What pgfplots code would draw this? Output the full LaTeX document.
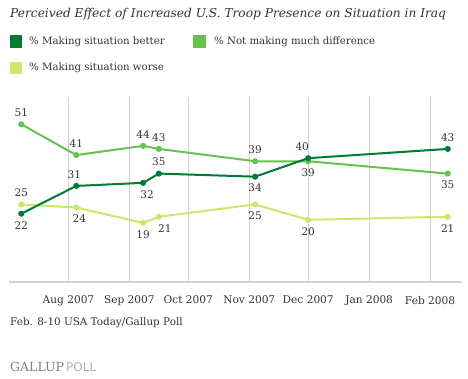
\documentclass[border=0pt]{standalone}
\usepackage{pgfplots}
\usepackage{pgfplotstable}
\pgfplotsset{compat=1.18}
\usepackage{fontspec}
\setmainfont{DejaVu Serif}
\newfontfamily\sansf{DejaVu Sans}
\definecolor{cBetter}{HTML}{007A37}
\definecolor{cSame}{HTML}{66C150}
\definecolor{cWorse}{HTML}{C8E86E}
\definecolor{txt}{HTML}{333333}
\definecolor{gridc}{HTML}{D0D0D0}

% day offsets from Aug 1 2007
\pgfplotstableread{
x y pos dx
-24 22 -1 0
4 31 1 -2
38 32 -1 4
46 35 1 0
95 34 -1 0
122 40 1 -6
193 43 1 0
}\better
\pgfplotstableread{
x y pos dx
-24 51 1 0
4 41 1 0
38 44 1 0
46 43 1 0
95 39 1 0
122 39 -1 0
193 35 -1 0
}\same
\pgfplotstableread{
x y pos dx
-24 25 1 0
4 24 -1 3
38 19 -1 0
46 21 -1 6
95 25 -1 0
122 20 -1 0
193 21 -1 0
}\worse

\pgfplotsset{
  lbl/.style={
    line width=2pt, mark=*, mark size=2pt,
    nodes near coords,
    point meta=explicit symbolic,
    visualization depends on={\thisrow{pos}\as\pos},
    visualization depends on={\thisrow{dx}\as\dx},
    every node near coord/.append style={anchor=center, yshift=\pos*11.5pt, xshift=\dx*1pt, text=txt, font=\fontsize{10.5}{12}\selectfont, inner sep=0},
  }
}

\begin{document}
\begin{tikzpicture}[x=1pt,y=1pt]
\useasboundingbox (0,0) rectangle (468,378);
% title
\node[anchor=west, inner sep=0, text=txt, font=\itshape\fontsize{12.2}{14}\selectfont] at (10,364) {Perceived Effect of Increased U.S. Troop Presence on Situation in Iraq};
% legend
\fill[cBetter] (10,330) rectangle (22,343);
\node[anchor=west, inner sep=0, text=txt, font=\fontsize{10.2}{12}\selectfont] at (29,336.5) {\% Making situation better};
\fill[cSame] (193,330) rectangle (206,343);
\node[anchor=west, inner sep=0, text=txt, font=\fontsize{10.2}{12}\selectfont] at (214,336.5) {\% Not making much difference};
\fill[cWorse] (10,304) rectangle (22,316);
\node[anchor=west, inner sep=0, text=txt, font=\fontsize{10.2}{12}\selectfont] at (29,310) {\% Making situation worse};
% footer
\node[anchor=west, inner sep=0, text=txt, font=\fontsize{10.4}{12}\selectfont] at (10,55) {Feb. 8-10 USA Today/Gallup Poll};
\node[anchor=west, inner sep=0, text=gray, font=\fontsize{12.5}{14}\selectfont] at (10,11) {GALLUP\,{\sansf\color{gray!60}\fontsize{12}{14}\selectfont POLL}};

\begin{axis}[
  at={(9.5pt,96.5pt)}, anchor=south west, scale only axis,
  width=452pt, height=185pt,
  xmin=-30, xmax=200, ymin=0, ymax=60,
  axis y line=none,
  axis x line=bottom,
  x axis line style={-, draw=gridc, line width=2pt},
  xtick={0,31,61,92,122,153,184},
  xticklabels={Aug 2007,Sep 2007,Oct 2007,Nov 2007,Dec 2007,Jan 2008,Feb 2008},
  xticklabel style={font=\fontsize{10.6}{12}\selectfont, text=txt, yshift=-11pt},
  major tick length=0pt,
  xmajorgrids, grid style={gridc, line width=0.8pt},
  ytick=\empty,
  clip=false,
]
\addplot[color=cWorse, lbl] table[x=x, y=y, meta=y] {\worse};
\addplot[color=cSame, lbl] table[x=x, y=y, meta=y] {\same};
\addplot[color=cBetter, lbl] table[x=x, y=y, meta=y] {\better};
\end{axis}
\end{tikzpicture}
\end{document}
